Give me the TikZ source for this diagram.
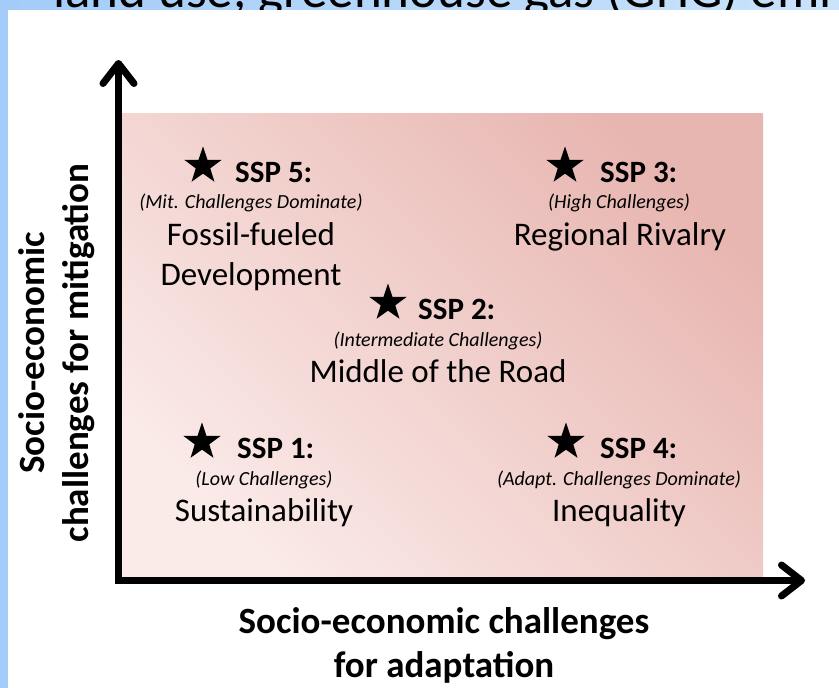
\documentclass[tikz,border=0pt]{standalone}
\usepackage{fontspec}
\setmainfont{Carlito}
\usetikzlibrary{arrows.meta,shapes.geometric}
\definecolor{bandL}{RGB}{163,204,249}
\definecolor{bandR}{RGB}{202,227,251}
\definecolor{pinkL}{RGB}{250,234,232}
\definecolor{pinkD}{RGB}{232,182,177}
\begin{document}
\begin{tikzpicture}[x=1pt,y=-1pt,
  starn/.style={star,star points=5,star point ratio=2.55,fill=black,draw=none,minimum size=39pt,inner sep=0pt},
  hdr/.style={font=\fontsize{31}{36}\selectfont\bfseries,anchor=base west,inner sep=0pt},
  subt/.style={font=\fontsize{20}{24}\selectfont\itshape,anchor=base,inner sep=0pt},
  scen/.style={font=\fontsize{33}{40}\selectfont,anchor=base,inner sep=0pt,align=center},
  axlabel/.style={font=\fontsize{37}{44}\selectfont\bfseries,inner sep=0pt,align=center},
  axisline/.style={line width=7pt,line join=miter},
  barb/.tip={Straight Barb[length=20pt,width=31pt,round]}]
\useasboundingbox (0,0) rectangle (839,688);
\fill[white] (0,0) rectangle (839,688);
% top band and left strip
\shade[left color=bandL,right color=bandR] (0,0) rectangle (839,9);
\fill[bandL] (0,0) rectangle (8,688);
\begin{scope}
  \clip (8,0) rectangle (839,9);
  \node[anchor=base west,inner sep=0pt,font=\fontsize{53}{60}\selectfont] (cut) at (53,7) {land use, greenhouse gas (GHG) emi};
\end{scope}
% pink field
\shade[bottom color=pinkL,top color=pinkD,shading angle=-45] (122,113) rectangle (763,577);
% axes
\coordinate (yt) at (118.5,60);
\coordinate (org) at (118.5,580.5);
\coordinate (xt) at (805,580.5);
\draw[axisline,barb-barb] (yt) -- (org) -- (xt);
% axis labels
\node[axlabel,rotate=90] (ylab) at (57,353) {Socio-economic\\challenges for mitigation};
\node[axlabel,anchor=base] (xlab) at (444,677) {Socio-economic challenges\\for adaptation};
% SSP 5
\node[starn] (st5) at (203,166) {};
\node[hdr] (h5) at (235,182) {SSP 5:};
\node[subt] (s5) at (251,208) {(Mit. Challenges Dominate)};
\node[scen] (n5) at (251,285) {Fossil-fueled\\Development};
% SSP 3
\node[starn] (st3) at (565,166) {};
\node[hdr] (h3) at (600,182) {SSP 3:};
\node[subt] (s3) at (619,208) {(High Challenges)};
\node[scen] (n3) at (620,245) {Regional Rivalry};
% SSP 2
\node[starn] (st2) at (388,303) {};
\node[hdr] (h2) at (418,319) {SSP 2:};
\node[subt] (s2) at (438,346) {(Intermediate Challenges)};
\node[scen] (n2) at (438,382) {Middle of the Road};
% SSP 1
\node[starn] (st1) at (202,442) {};
\node[hdr] (h1) at (237,458) {SSP 1:};
\node[subt] (s1) at (264,485) {(Low Challenges)};
\node[scen] (n1) at (264,521) {Sustainability};
% SSP 4
\node[starn] (st4) at (566,442) {};
\node[hdr] (h4) at (600,458) {SSP 4:};
\node[subt] (s4) at (619,485) {(Adapt. Challenges Dominate)};
\node[scen] (n4) at (619,521) {Inequality};
\end{tikzpicture}
\end{document}
